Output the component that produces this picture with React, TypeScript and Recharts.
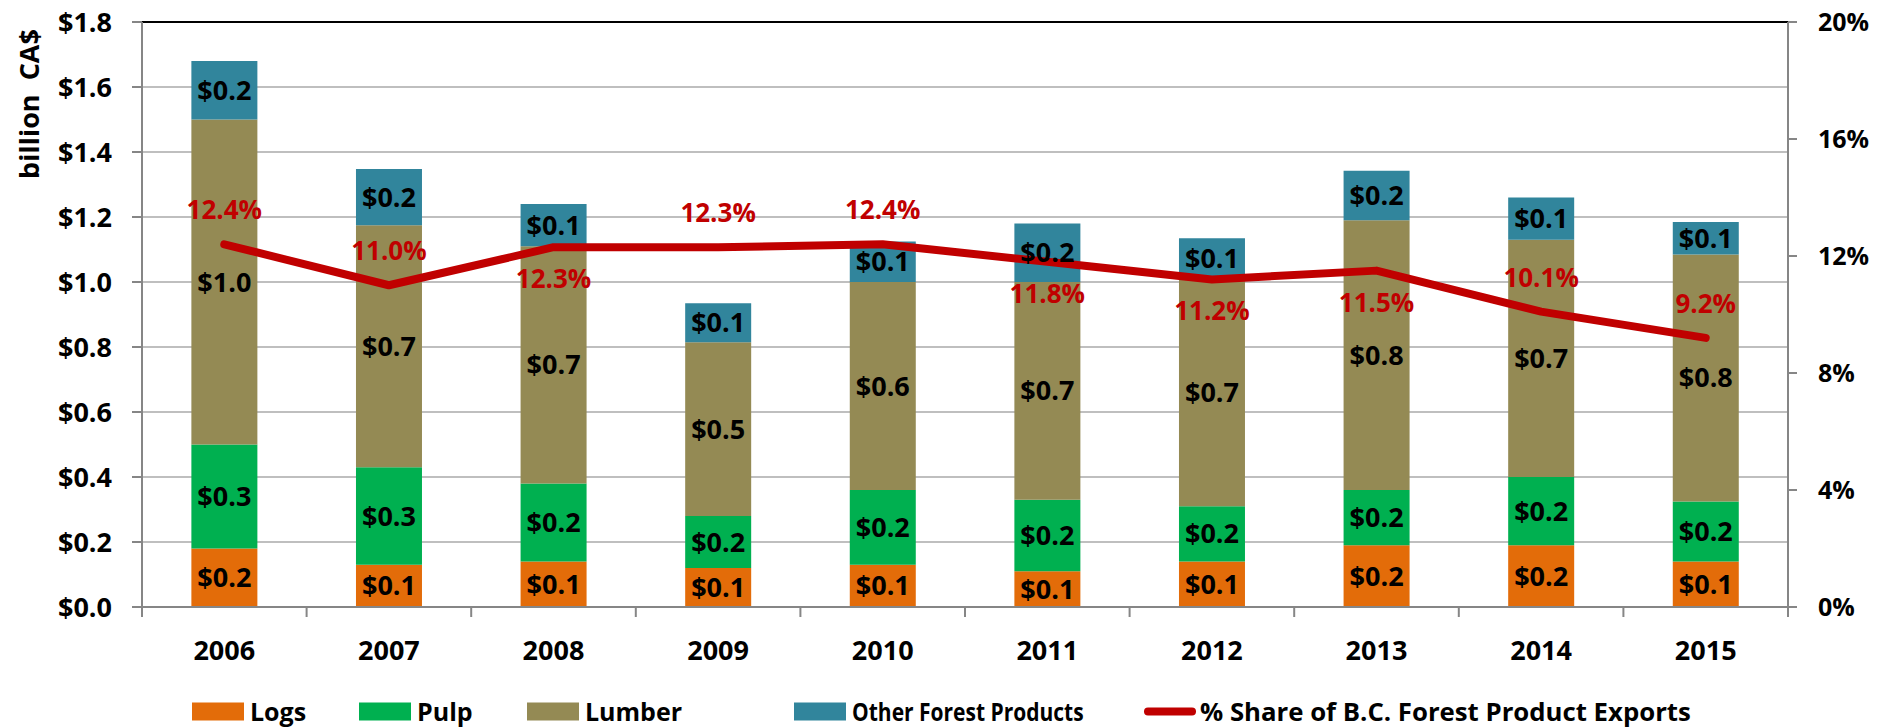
import React from 'react';
import {
  ComposedChart,
  Bar,
  Line,
  XAxis,
  YAxis,
  CartesianGrid,
  LabelList,
  ReferenceLine,
} from 'recharts';

// ---------- data ----------
const years = ['2006', '2007', '2008', '2009', '2010', '2011', '2012', '2013', '2014', '2015'];
const logs = [0.18, 0.13, 0.14, 0.12, 0.13, 0.11, 0.14, 0.19, 0.19, 0.14];
const pulp = [0.32, 0.3, 0.24, 0.16, 0.23, 0.22, 0.17, 0.17, 0.21, 0.185];
const lumber = [1.0, 0.745, 0.73, 0.535, 0.64, 0.67, 0.7, 0.83, 0.73, 0.76];
const other = [0.18, 0.173, 0.13, 0.12, 0.125, 0.18, 0.125, 0.152, 0.13, 0.1];
const share = [12.4, 11.0, 12.3, 12.3, 12.4, 11.8, 11.2, 11.5, 10.1, 9.2];
const leftTicks = [0, 0.2, 0.4, 0.6, 0.8, 1.0, 1.2, 1.4, 1.6, 1.8];
const rightTicks = [0, 4, 8, 12, 16, 20];
const seriesNames = ['Logs', 'Pulp', 'Lumber', 'Other Forest Products', '% Share of B.C. Forest Product Exports'];
const yTitle = 'billion\u00A0\u00A0CA$';

// label placement for the % line (styling)
const shareLabelSide = ['up', 'up', 'down', 'up', 'up', 'down', 'down', 'down', 'up', 'up'];

const COLORS = {
  logs: '#E36C09',
  pulp: '#00B050',
  lumber: '#948A54',
  other: '#31859C',
  line: '#C00000',
};

const data = years.map((y, i) => ({
  year: y,
  logs: logs[i],
  pulp: pulp[i],
  lumber: lumber[i],
  other: other[i],
  share: share[i],
}));

// ---------- layout ----------
const W = 1879;
const H = 728;
const LEFT_W = 142;
const RIGHT_W = 91;
const PLOT_W = W - LEFT_W - RIGHT_W;
const BAND = PLOT_W / years.length;
const FONT = '"Open Sans", "DejaVu Sans", sans-serif';
const AXIS_GRAY = '#868686';

const XTick = (props: any) => {
  const { x, y, payload, index } = props;
  const left = x - BAND / 2;
  return (
    <g>
      <line x1={left} y1={y} x2={left} y2={y + 10} stroke={AXIS_GRAY} strokeWidth={2} />
      {index === years.length - 1 && (
        <line x1={x + BAND / 2} y1={y} x2={x + BAND / 2} y2={y + 10} stroke={AXIS_GRAY} strokeWidth={2} />
      )}
      <text
        x={x}
        y={y + 42}
        textAnchor="middle"
        dominantBaseline="central"
        fontFamily={FONT}
        fontWeight={700}
        fontSize={27}
        fill="#000"
      >
        {payload.value}
      </text>
    </g>
  );
};

const ShareLabel = (props: any) => {
  const { x, y, value } = props;
  let index = props.index;
  if (index === undefined || index === null) {
    index = Math.round((x - LEFT_W - BAND / 2) / BAND);
  }
  const side = shareLabelSide[index] || 'up';
  const dy = side === 'up' ? -35 : 31;
  return (
    <text
      x={x}
      y={y + dy}
      textAnchor="middle"
      dominantBaseline="central"
      fontFamily={FONT}
      fontWeight={700}
      fontSize={26}
      fill={COLORS.line}
    >
      {`${Number(value).toFixed(1)}%`}
    </text>
  );
};

const barLabelFmt = (v: any) => `$${Number(v).toFixed(1)}`;

const barLabelStyle = {
  fontFamily: FONT,
  fontWeight: 700,
  fontSize: 27,
  fill: '#000',
};

const legendItems = [
  { name: seriesNames[0], color: COLORS.logs, left: 192, kind: 'rect', sx: 1 },
  { name: seriesNames[1], color: COLORS.pulp, left: 359, kind: 'rect', sx: 1 },
  { name: seriesNames[2], color: COLORS.lumber, left: 527, kind: 'rect', sx: 1 },
  { name: seriesNames[3], color: COLORS.other, left: 794, kind: 'rect', sx: 0.84 },
  { name: seriesNames[4], color: COLORS.line, left: 1144, kind: 'line', sx: 1.03 },
];

const LegendBox = () => (
  <div style={{ position: 'absolute', left: 0, top: 0, width: W, height: H, pointerEvents: 'none' }}>
    {legendItems.map((it) => (
      <div
        key={it.name}
        style={{
          position: 'absolute',
          left: it.left,
          top: 711,
          transform: 'translateY(-50%)',
          display: 'flex',
          alignItems: 'center',
          fontFamily: FONT,
          fontWeight: 700,
          fontSize: 25,
          color: '#000',
          whiteSpace: 'nowrap',
          lineHeight: 1,
        }}
      >
        {it.kind === 'rect' ? (
          <span style={{ display: 'inline-block', width: 52, height: 18, background: it.color, marginRight: 6 }} />
        ) : (
          <span
            style={{
              display: 'inline-block',
              width: 52,
              height: 8,
              borderRadius: 4,
              background: it.color,
              marginRight: 4,
            }}
          />
        )}
        <span style={{ display: 'inline-block', transform: `scaleX(${it.sx})`, transformOrigin: 'left center' }}>
          {it.name}
        </span>
      </div>
    ))}
  </div>
);

const YTitleBox = () => (
  <div
    style={{
      position: 'absolute',
      left: 28,
      top: 104,
      transform: 'translate(-50%, -50%) rotate(-90deg)',
      fontFamily: FONT,
      fontWeight: 700,
      fontSize: 27,
      color: '#000',
      whiteSpace: 'nowrap',
      lineHeight: 1,
      pointerEvents: 'none',
    }}
  >
    {yTitle}
  </div>
);

export default function App() {
  return (
    <div style={{ position: 'relative', width: W, height: H, overflow: 'hidden', background: '#fff' }}>
      <style>{`body{margin:0;overflow:hidden;background:#fff}`}</style>
      <ComposedChart
        width={W}
        height={H}
        data={data}
        margin={{ top: 22, right: 0, left: 0, bottom: 61 }}
        barCategoryGap="30%"
      >
        <CartesianGrid yAxisId="left" vertical={false} stroke="#BFBFBF" strokeWidth={2} />
        <XAxis
          dataKey="year"
          height={60}
          tickSize={0}
          tickMargin={0}
          tickLine={false}
          axisLine={{ stroke: AXIS_GRAY, strokeWidth: 2 }}
          tick={<XTick />}
          interval={0}
        />
        <YAxis
          yAxisId="left"
          width={LEFT_W}
          domain={[0, 1.8]}
          ticks={leftTicks}
          interval={0}
          tickFormatter={(v: number) => `$${v.toFixed(1)}`}
          tickSize={10}
          tickMargin={20}
          tickLine={{ stroke: AXIS_GRAY, strokeWidth: 2 }}
          axisLine={{ stroke: AXIS_GRAY, strokeWidth: 2 }}
          tick={{ fontFamily: FONT, fontWeight: 700, fontSize: 27, fill: '#000' }}
          allowDataOverflow
        />
        <YAxis
          yAxisId="right"
          orientation="right"
          width={RIGHT_W}
          domain={[0, 20]}
          ticks={rightTicks}
          interval={0}
          tickFormatter={(v: number) => `${v}%`}
          tickSize={9}
          tickMargin={21}
          tickLine={{ stroke: AXIS_GRAY, strokeWidth: 2 }}
          axisLine={{ stroke: AXIS_GRAY, strokeWidth: 2 }}
          tick={{ fontFamily: FONT, fontWeight: 700, fontSize: 25, fill: '#000' }}
        />
        <ReferenceLine yAxisId="left" y={1.8} stroke="#000" strokeWidth={2} />
        <Bar yAxisId="left" dataKey="logs" name={seriesNames[0]} stackId="a" fill={COLORS.logs} isAnimationActive={false}>
          <LabelList dataKey="logs" position="center" formatter={barLabelFmt} style={barLabelStyle} />
        </Bar>
        <Bar yAxisId="left" dataKey="pulp" name={seriesNames[1]} stackId="a" fill={COLORS.pulp} isAnimationActive={false}>
          <LabelList dataKey="pulp" position="center" formatter={barLabelFmt} style={barLabelStyle} />
        </Bar>
        <Bar yAxisId="left" dataKey="lumber" name={seriesNames[2]} stackId="a" fill={COLORS.lumber} isAnimationActive={false}>
          <LabelList dataKey="lumber" position="center" formatter={barLabelFmt} style={barLabelStyle} />
        </Bar>
        <Bar yAxisId="left" dataKey="other" name={seriesNames[3]} stackId="a" fill={COLORS.other} isAnimationActive={false}>
          <LabelList dataKey="other" position="center" formatter={barLabelFmt} style={barLabelStyle} />
        </Bar>
        <Line
          yAxisId="right"
          dataKey="share"
          name={seriesNames[4]}
          stroke={COLORS.line}
          strokeWidth={8}
          strokeLinecap="round"
          strokeLinejoin="round"
          dot={false}
          activeDot={false}
          type="linear"
          isAnimationActive={false}
        >
          <LabelList dataKey="share" content={<ShareLabel />} />
        </Line>
      </ComposedChart>
      <YTitleBox />
      <LegendBox />
    </div>
  );
}
